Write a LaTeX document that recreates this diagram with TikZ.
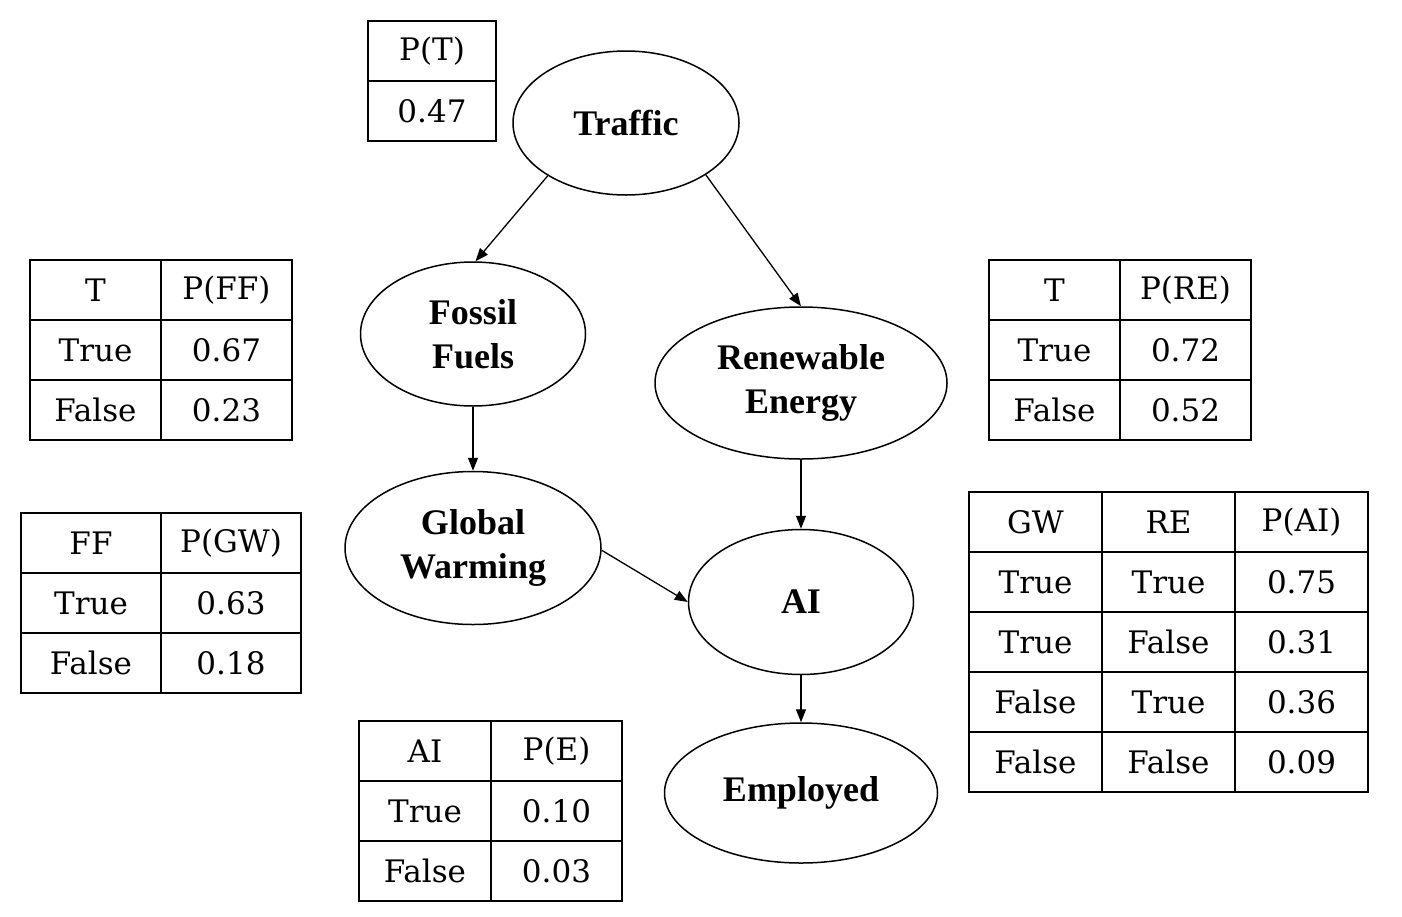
\documentclass[tikz,border=0pt]{standalone}
\usepackage{fontspec}
\setmainfont{DejaVu Serif}
\newfontfamily\nodefont{Liberation Serif}
\usetikzlibrary{shapes.geometric,arrows.meta}
\tikzset{
  bnode/.style={ellipse, draw, line width=1.5pt, inner sep=0pt, font=\nodefont\bfseries\fontsize{36}{44}\selectfont, align=center},
  cellbox/.style={rectangle, draw, line width=1.5pt, inner sep=0pt, outer sep=0pt, font=\fontsize{31}{34}\selectfont},
  edge/.style={line width=1.3pt, -{Triangle[length=13pt,width=10pt]}},
}
% \cell{name}{x0}{y0}{x1}{y1}{text}
\newcommand{\cptcell}[6]{%
  \node[cellbox, minimum width={(#4-#2)*1pt}, minimum height={(#5-#3)*1pt}] (#1) at ({(#2+#4)/2},{(#3+#5)/2}) {#6};}
\begin{document}
\begin{tikzpicture}[x=1pt,y=-1pt]
\useasboundingbox (0,0) rectangle (1402,916);
\fill[white] (0,0) rectangle (1402,916);

% Bayesian network nodes
\node[bnode, minimum width=226pt, minimum height=144pt] (T) at (626,123) {Traffic};
\node[bnode, minimum width=225pt, minimum height=144pt] (FF) at (473,334) {Fossil\\Fuels};
\node[bnode, minimum width=292pt, minimum height=152pt] (RE) at (801,383) {Renewable\\Energy};
\node[bnode, minimum width=256pt, minimum height=153pt] (GW) at (473,548) {Global\\Warming};
\node[bnode, minimum width=225pt, minimum height=145pt] (AI) at (801,602) {AI};
\node[bnode, minimum width=273pt, minimum height=140pt] (E) at (801,793) {Employed};

% edges
\draw[edge] (T.214) -- (FF.88);
\draw[edge] (T.327) -- (RE.north);
\draw[edge] (FF.south) -- (GW.north);
\draw[edge] (RE.south) -- (AI.north);
\draw[edge] (GW.-1) -- (AI.west);
\draw[edge] (AI.south) -- (E.north);

% P(T)
\cptcell{pt1}{368}{21}{496}{81}{P(T)}
\cptcell{pt2}{368}{81}{496}{141}{0.47}

% P(FF)
\cptcell{ff11}{30}{260}{161}{320}{T}
\cptcell{ff12}{161}{260}{292}{320}{P(FF)}
\cptcell{ff21}{30}{320}{161}{380}{True}
\cptcell{ff22}{161}{320}{292}{380}{0.67}
\cptcell{ff31}{30}{380}{161}{440}{False}
\cptcell{ff32}{161}{380}{292}{440}{0.23}

% P(GW)
\cptcell{gw11}{21}{513}{161}{573}{FF}
\cptcell{gw12}{161}{513}{301}{573}{P(GW)}
\cptcell{gw21}{21}{573}{161}{633}{True}
\cptcell{gw22}{161}{573}{301}{633}{0.63}
\cptcell{gw31}{21}{633}{161}{693}{False}
\cptcell{gw32}{161}{633}{301}{693}{0.18}

% P(RE)
\cptcell{re11}{989}{260}{1120}{320}{T}
\cptcell{re12}{1120}{260}{1251}{320}{P(RE)}
\cptcell{re21}{989}{320}{1120}{380}{True}
\cptcell{re22}{1120}{320}{1251}{380}{0.72}
\cptcell{re31}{989}{380}{1120}{440}{False}
\cptcell{re32}{1120}{380}{1251}{440}{0.52}

% P(AI)
\cptcell{ai11}{969}{492}{1102}{552}{GW}
\cptcell{ai12}{1102}{492}{1235}{552}{RE}
\cptcell{ai13}{1235}{492}{1368}{552}{P(AI)}
\cptcell{ai21}{969}{552}{1102}{612}{True}
\cptcell{ai22}{1102}{552}{1235}{612}{True}
\cptcell{ai23}{1235}{552}{1368}{612}{0.75}
\cptcell{ai31}{969}{612}{1102}{672}{True}
\cptcell{ai32}{1102}{612}{1235}{672}{False}
\cptcell{ai33}{1235}{612}{1368}{672}{0.31}
\cptcell{ai41}{969}{672}{1102}{732}{False}
\cptcell{ai42}{1102}{672}{1235}{732}{True}
\cptcell{ai43}{1235}{672}{1368}{732}{0.36}
\cptcell{ai51}{969}{732}{1102}{792}{False}
\cptcell{ai52}{1102}{732}{1235}{792}{False}
\cptcell{ai53}{1235}{732}{1368}{792}{0.09}

% P(E)
\cptcell{e11}{359}{721}{491}{781}{AI}
\cptcell{e12}{491}{721}{622}{781}{P(E)}
\cptcell{e21}{359}{781}{491}{841}{True}
\cptcell{e22}{491}{781}{622}{841}{0.10}
\cptcell{e31}{359}{841}{491}{901}{False}
\cptcell{e32}{491}{841}{622}{901}{0.03}
\end{tikzpicture}
\end{document}
